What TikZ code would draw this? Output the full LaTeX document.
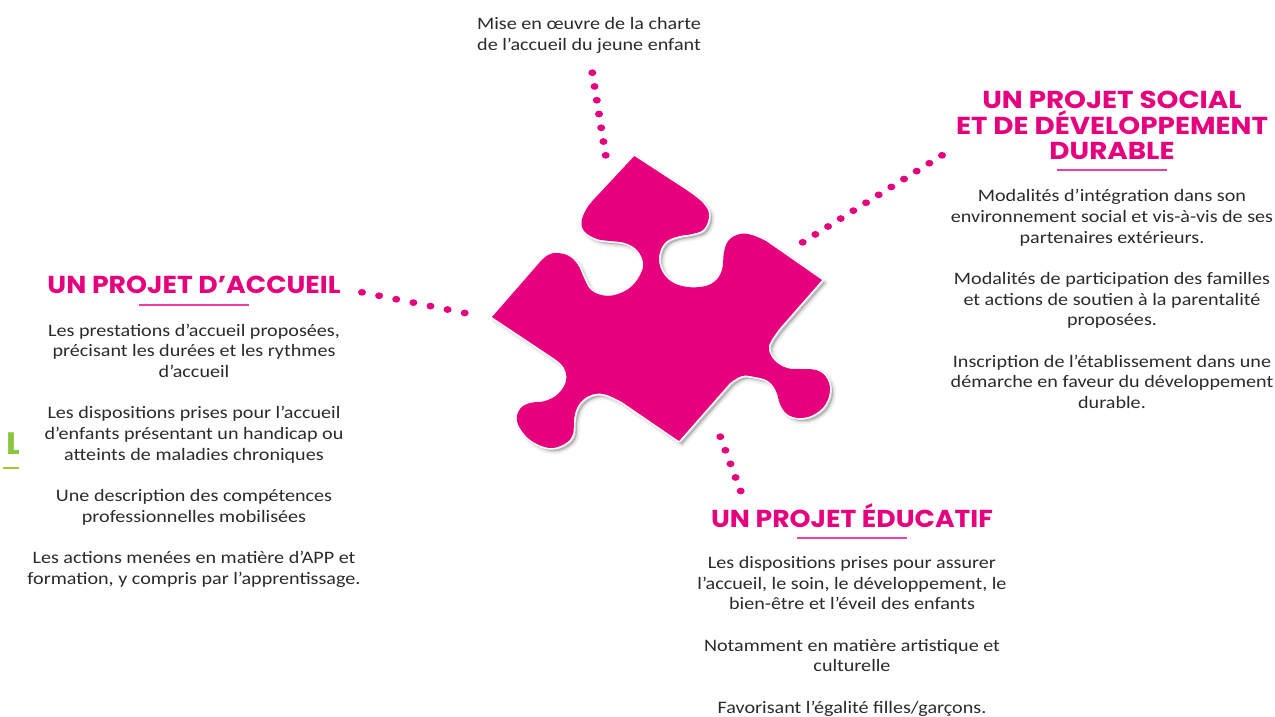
\documentclass[tikz,border=0pt]{standalone}
\usepackage{fontspec}
\setmainfont[FakeStretch=1.15]{Carlito}
\newfontfamily\headfont[FakeStretch=1.09]{Poppins}
\newfontfamily\headwide[FakeStretch=1.135]{Poppins}
\definecolor{rose}{HTML}{E6007E}
\definecolor{bodytext}{HTML}{2B2B2B}
\definecolor{lime}{HTML}{8CC63F}
\definecolor{leaf}{HTML}{A9C52F}
\tikzset{
  bodybox/.style={align=center,inner sep=0pt,text=bodytext,font=\fontsize{17.5}{20.7}\selectfont},
  headbox/.style={align=center,inner sep=0pt,text=rose,font=\headfont\bfseries\fontsize{24.5}{25.5}\selectfont},
  headwidebox/.style={align=center,inner sep=0pt,text=rose,font=\headwide\bfseries\fontsize{24.5}{25.5}\selectfont},
  dotmark/.style={fill=rose,draw=none},
  pinkrule/.style={fill=rose!75!white,draw=none}
}
\newcommand\puzzleshape[1]{\path[#1]
  (634.3,156) -- (688,191)
  -- plot[smooth,tension=.65] coordinates {(688,191) (703,203) (709,215) (704,229) (692,234) (680,236) (667,241) (660,252) (660,266) (668,279) (682,286) (700,287) (714,282) (722,270) (724,252) (729,240) (740,234) (752,235) (766,241)}
  -- (822,280)
  -- (780,328)
  -- plot[smooth,tension=.65] coordinates {(780,328) (771,341) (769,350) (775,361) (787,368) (800,369) (816,370) (826,377) (830,390) (825,405) (813,415) (799,418) (787,414) (780,404) (776,391) (768,381) (755,377) (742,376) (730,383)}
  -- (679,441)
  -- (622,402)
  -- plot[smooth,tension=.65] coordinates {(622,402) (607,395) (595,394) (584,399) (577,408) (574,420) (573,434) (566,443) (552,448) (537,444) (525,435) (517,421) (520,409) (530,403) (545,401) (558,394) (566,381) (564,368) (555,359)}
  -- (492,317)
  -- (540,262)
  -- plot[smooth,tension=.65] coordinates {(540,262) (548,255) (557,253) (569,256) (578,265) (584,278) (591,290) (604,295.5) (618,294) (632,286) (641,273) (643,262) (637,250) (625,243) (610,241) (597,239) (585,232) (581.5,222) (587,208) (597,196)}
  -- cycle;}
\begin{document}
\begin{tikzpicture}[x=1pt,y=-1pt]
\useasboundingbox (0,0) rectangle (1275,716);
\fill[white] (0,0) rectangle (1275,716);
% cropped element at the left edge
\node[anchor=west,inner sep=0pt,text=lime,font=\headfont\bfseries\fontsize{31}{31}\selectfont] (cropL) at (6,444) {L};
\fill[leaf] (3,466.5) rectangle (19,468.5);
\fill[white] (19,425) rectangle (30,475);
% shadow, outline and piece
\foreach \w/\op in {7/.03,5/.04,3/.05,1/.05}{
  \begin{scope}[shift={(3,3)}]
  \puzzleshape{draw=black,fill=black,line width=\w pt,opacity=\op,line join=round}
  \end{scope}}
\puzzleshape{draw=white,line width=3.4pt,fill=white,line join=round}
\puzzleshape{fill=rose}
% dotted trails
\foreach \i in {0,...,6}{\fill[dotmark] ({592.3+\i*13.4/6},{72.7+\i*82.6/6}) ellipse (4 and 3.4);}
\foreach \i in {0,...,11}{\fill[dotmark] ({802.7+\i*139.3/11},{242.3-\i*87/11}) ellipse (4 and 3.4);}
\foreach \i in {0,...,6}{\fill[dotmark] ({362+\i*102.7/6},{292.3+\i*20.7/6}) ellipse (4 and 3.4);}
\foreach \i in {0,...,4}{\fill[dotmark] ({720.3+\i*20.4/4},{436.7+\i*54.3/4}) ellipse (4 and 3.4);}
% top text
\node[bodybox] (charte) at (589,35.5) {Mise en œuvre de la charte\\de l’accueil du jeune enfant};
% right block
\node[headwidebox] (social) at (1112,125.5) {UN PROJET SOCIAL\\ET DE DÉVELOPPEMENT\\DURABLE};
\fill[pinkrule] (1057,168.8) rectangle (1167,170.8);
\node[bodybox] (socialtxt) at (1112,299) {Modalités d’intégration dans son\\environnement social et vis-à-vis de ses\\partenaires extérieurs.\\[20.7pt]Modalités de participation des familles\\et actions de soutien à la parentalité\\proposées.\\[20.7pt]Inscription de l’établissement dans une\\démarche en faveur du développement\\durable.};
% left block
\node[headbox] (accueil) at (194,285) {UN PROJET D’ACCUEIL};
\fill[pinkrule] (139,304) rectangle (249,306);
\node[bodybox] (accueiltxt) at (194,455.7) {Les prestations d’accueil proposées,\\précisant les durées et les rythmes\\d’accueil\\[20.7pt]Les dispositions prises pour l’accueil\\d’enfants présentant un handicap ou\\atteints de maladies chroniques\\[20.7pt]Une description des compétences\\professionnelles mobilisées\\[20.7pt]Les actions menées en matière d’APP et\\formation, y compris par l’apprentissage.};
% bottom block
\node[headbox] (educatif) at (852,516) {UN PROJET ÉDUCATIF};
\fill[pinkrule] (797,536.5) rectangle (907,538.5);
\node[bodybox] (educatiftxt) at (852,636.3) {Les dispositions prises pour assurer\\l’accueil, le soin, le développement, le\\bien-être et l’éveil des enfants\\[20.7pt]Notamment en matière artistique et\\culturelle\\[20.7pt]Favorisant l’égalité filles/garçons.};
\end{tikzpicture}
\end{document}
